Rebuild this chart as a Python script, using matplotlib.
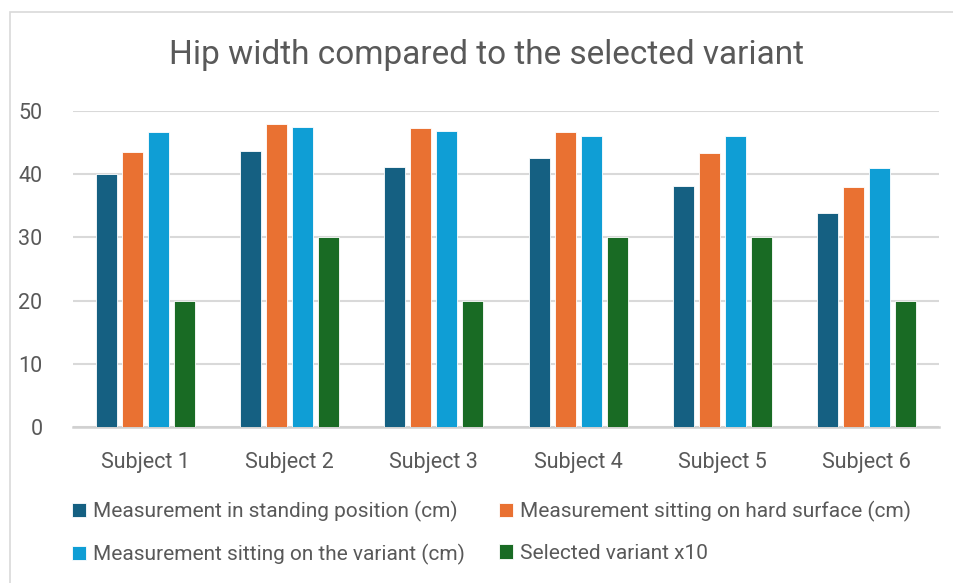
import matplotlib.pyplot as plt
import numpy as np
from matplotlib.patches import Rectangle

plt.rcParams['font.family'] = ['Roboto', 'DejaVu Sans']

subjects = ['Subject 1', 'Subject 2', 'Subject 3', 'Subject 4', 'Subject 5', 'Subject 6']
standing = [40.0, 43.7, 41.1, 42.5, 38.1, 33.8]
hard_surface = [43.5, 47.9, 47.3, 46.7, 43.3, 38.0]
on_variant = [46.7, 47.5, 46.9, 46.0, 46.1, 41.0]
variant_x10 = [20, 30, 20, 30, 30, 20]

series_names = ['Measurement in standing position (cm)',
                'Measurement sitting on hard surface (cm)',
                'Measurement sitting on the variant (cm)',
                'Selected variant x10']
colors = ['#156082', '#E97132', '#0F9ED5', '#196B24']
txt = '#595959'

W, H = 954, 583
fig = plt.figure(figsize=(W / 100, H / 100), dpi=100)

# chart frame
fig.patches.append(Rectangle((10 / W, -0.1), 1.2, (H - 12) / H + 0.1,
                             transform=fig.transFigure, fill=False,
                             edgecolor='#d9d9d9', linewidth=1.2))

ax = fig.add_axes([73 / W, 1 - 427 / H, (939 - 73) / W, (427 - 111) / H])

x = np.arange(len(subjects))
bw = 0.1455
step = 0.18
all_series = [standing, hard_surface, on_variant, variant_x10]
bars = []
for i, (vals, name, c) in enumerate(zip(all_series, series_names, colors)):
    b = ax.bar(x + (i - 1.5) * step, vals, bw, color=c, label=name,
               edgecolor='white', linewidth=0.6, zorder=3)
    bars.append(b)

ax.set_xlim(-0.5, len(subjects) - 0.5)
ax.set_ylim(0, 50)
ax.set_yticks(range(0, 51, 10))
ax.yaxis.grid(True, color='#d9d9d9', linewidth=1.5, zorder=0)
for s in ['top', 'right', 'left']:
    ax.spines[s].set_visible(False)
ax.spines['bottom'].set_color('#d0d0d0')
ax.spines['bottom'].set_linewidth(1.8)
ax.tick_params(axis='both', length=0, colors=txt, labelsize=15.5)
ax.tick_params(axis='y', pad=22)
ax.tick_params(axis='x', pad=18)
ax.set_xticks(x)
ax.set_xticklabels(subjects)

fig.text(487 / W, 1 - 55 / H, 'Hip width compared to the selected variant',
         ha='center', va='center', fontsize=24, color=txt)

# legend reads row by row: two series per line
order = [0, 2, 1, 3]
fig.legend([bars[i] for i in order], [series_names[i] for i in order],
           loc='upper left', bbox_to_anchor=(53 / W, 1 - 482 / H), ncol=2,
           frameon=False, fontsize=15, labelcolor=txt,
           handlelength=0.7, handleheight=0.7, handletextpad=0.3,
           columnspacing=1.65, labelspacing=1.05)

fig.savefig('out.png', dpi=100)
